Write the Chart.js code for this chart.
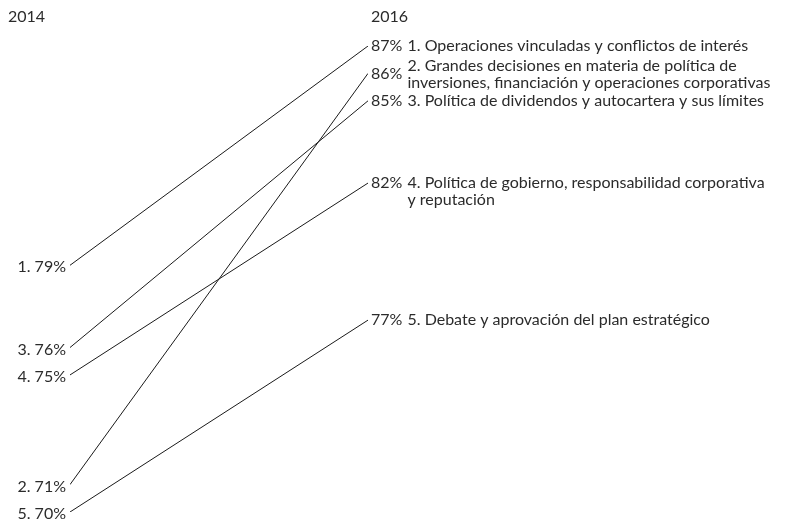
<!DOCTYPE html>
<html>
<head>
<meta charset="utf-8">
<script src="https://cdn.jsdelivr.net/npm/chart.js@4"></script>
<style>
  html, body { margin: 0; padding: 0; background: #fff; }
  canvas { display: block; }
</style>
</head>
<body>
<canvas id="slope" width="810" height="524"></canvas>
<script>
// --- data ---
const years = ['2014', '2016'];
const itemNumbers = [1, 2, 3, 4, 5];
const values2014 = [79, 71, 76, 75, 70];
const values2016 = [87, 86, 85, 82, 77];
const itemLabels = [
  ['1. Operaciones vinculadas y conflictos de interés'],
  ['2. Grandes decisiones en materia de política de', 'inversiones, financiación y operaciones corporativas'],
  ['3. Política de dividendos y autocartera y sus límites'],
  ['4. Política de gobierno, responsabilidad corporativa', 'y reputación'],
  ['5. Debate y aprovación del plan estratégico'],
];

const FONT = '16px Lato, "Open Sans", sans-serif';
const TEXT = '#2b2b2b';

// labels drawn next to line ends, positioned through the scales
const slopeLabels = {
  id: 'slopeLabels',
  afterDatasetsDraw(chart) {
    const { ctx, scales: { x, y } } = chart;
    const xl = x.getPixelForValue(0);
    const xr = x.getPixelForValue(1);
    ctx.save();
    ctx.font = FONT;
    ctx.fillStyle = TEXT;
    ctx.textBaseline = 'middle';

    // year headers
    ctx.textAlign = 'left';
    ctx.fillText(years[0], 8, 17);
    ctx.fillText(years[1], xr + 3, 17);

    itemNumbers.forEach((n, i) => {
      // left side
      const yl = y.getPixelForValue(values2014[i]);
      ctx.textAlign = 'right';
      ctx.fillText(`${n}. ${values2014[i]}%`, xl - 4, yl + 2);

      // right side
      const yr = y.getPixelForValue(values2016[i]);
      ctx.textAlign = 'left';
      const pct = `${values2016[i]}% `;
      ctx.fillText(pct, xr + 3, yr);
      const tx = xr + 3 + ctx.measureText(pct).width + 1;
      const lines = itemLabels[i];
      // two-line label 2 is centred round its value, label 4 hangs below
      const startY = (lines.length > 1 && i === 1) ? yr - 8 : yr;
      lines.forEach((ln, k) => ctx.fillText(ln, tx, startY + k * 17));
    });
    ctx.restore();
  }
};

new Chart(document.getElementById('slope'), {
  type: 'line',
  data: {
    datasets: itemNumbers.map((n, i) => ({
      label: itemLabels[i][0],
      data: [{ x: 0, y: values2014[i] }, { x: 1, y: values2016[i] }],
      borderColor: '#1a1a1a',
      borderWidth: 1,
      pointRadius: 0,
      fill: false,
      tension: 0,
    })),
  },
  options: {
    responsive: false,
    animation: false,
    layout: { padding: { left: 70, right: 442, top: 46, bottom: 12 } },
    plugins: { legend: { display: false }, tooltip: { enabled: false } },
    scales: {
      x: { type: 'linear', min: 0, max: 1, display: false },
      y: { type: 'linear', min: 70, max: 87, display: false },
    },
  },
  plugins: [slopeLabels],
});
</script>
</body>
</html>
